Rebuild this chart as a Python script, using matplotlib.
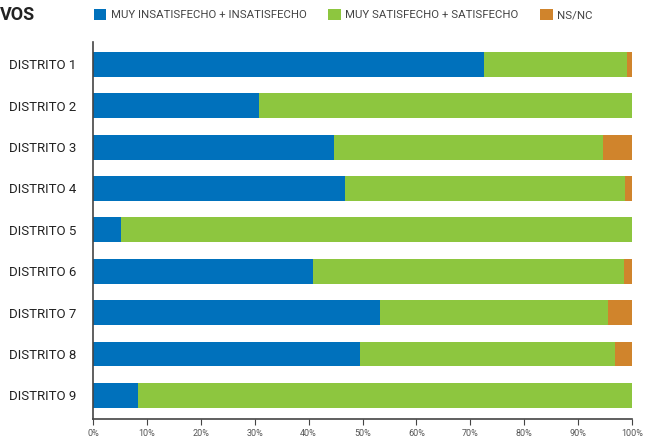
import matplotlib.pyplot as plt
import numpy as np

distritos = ['DISTRITO 1', 'DISTRITO 2', 'DISTRITO 3', 'DISTRITO 4', 'DISTRITO 5',
             'DISTRITO 6', 'DISTRITO 7', 'DISTRITO 8', 'DISTRITO 9']
insatisfecho = [72.5, 30.8, 44.7, 46.8, 5.2, 40.8, 53.2, 49.5, 8.3]
satisfecho = [26.6, 69.2, 49.9, 51.9, 94.8, 57.7, 42.3, 47.3, 91.7]
nsnc = [0.9, 0.0, 5.4, 1.3, 0.0, 1.5, 4.5, 3.2, 0.0]
series_names = ['MUY INSATISFECHO + INSATISFECHO', 'MUY SATISFECHO + SATISFECHO', 'NS/NC']
colores = ['#0071BC', '#8DC63F', '#D0842C']

plt.rcParams['font.family'] = ['Roboto', 'DejaVu Sans']

fig = plt.figure(figsize=(6.49, 4.40), dpi=100)
ax = fig.add_axes([93/649, 21/440, 539/649, 377/440])

y = np.arange(len(distritos))
left = np.zeros(len(distritos))
for vals, nombre, col in zip([insatisfecho, satisfecho, nsnc], series_names, colores):
    ax.barh(y, vals, left=left, height=0.6, color=col, label=nombre)
    left += np.array(vals)

ax.set_xlim(0, 100)
ax.set_ylim(8.57, -0.54)
ax.set_yticks(y)
ax.set_yticklabels(distritos, fontsize=9.5, color='#222222')
ax.tick_params(axis='y', length=0, pad=12)
ax.set_xticks(np.arange(0, 101, 10))
ax.set_xticklabels([f'{v}%' for v in range(0, 101, 10)], fontsize=6.5, color='#555555')
ax.tick_params(axis='x', length=4, width=0.8, color='#444444', pad=3)
for s in ['top', 'right']:
    ax.spines[s].set_visible(False)
for s in ['left', 'bottom']:
    ax.spines[s].set_color('#444444')
    ax.spines[s].set_linewidth(1.2)

fig.text(0.0, 0.967, 'VOS', fontsize=13, fontweight='bold', va='center', ha='left', color='#222222')
fig.legend(loc='center left', bbox_to_anchor=(89/649, 0.967), ncol=3, frameon=False,
           fontsize=8.2, handlelength=1.1, handleheight=1.1, handletextpad=0.4,
           columnspacing=1.9, labelcolor='#444444', borderaxespad=0)

plt.savefig('out.png')
